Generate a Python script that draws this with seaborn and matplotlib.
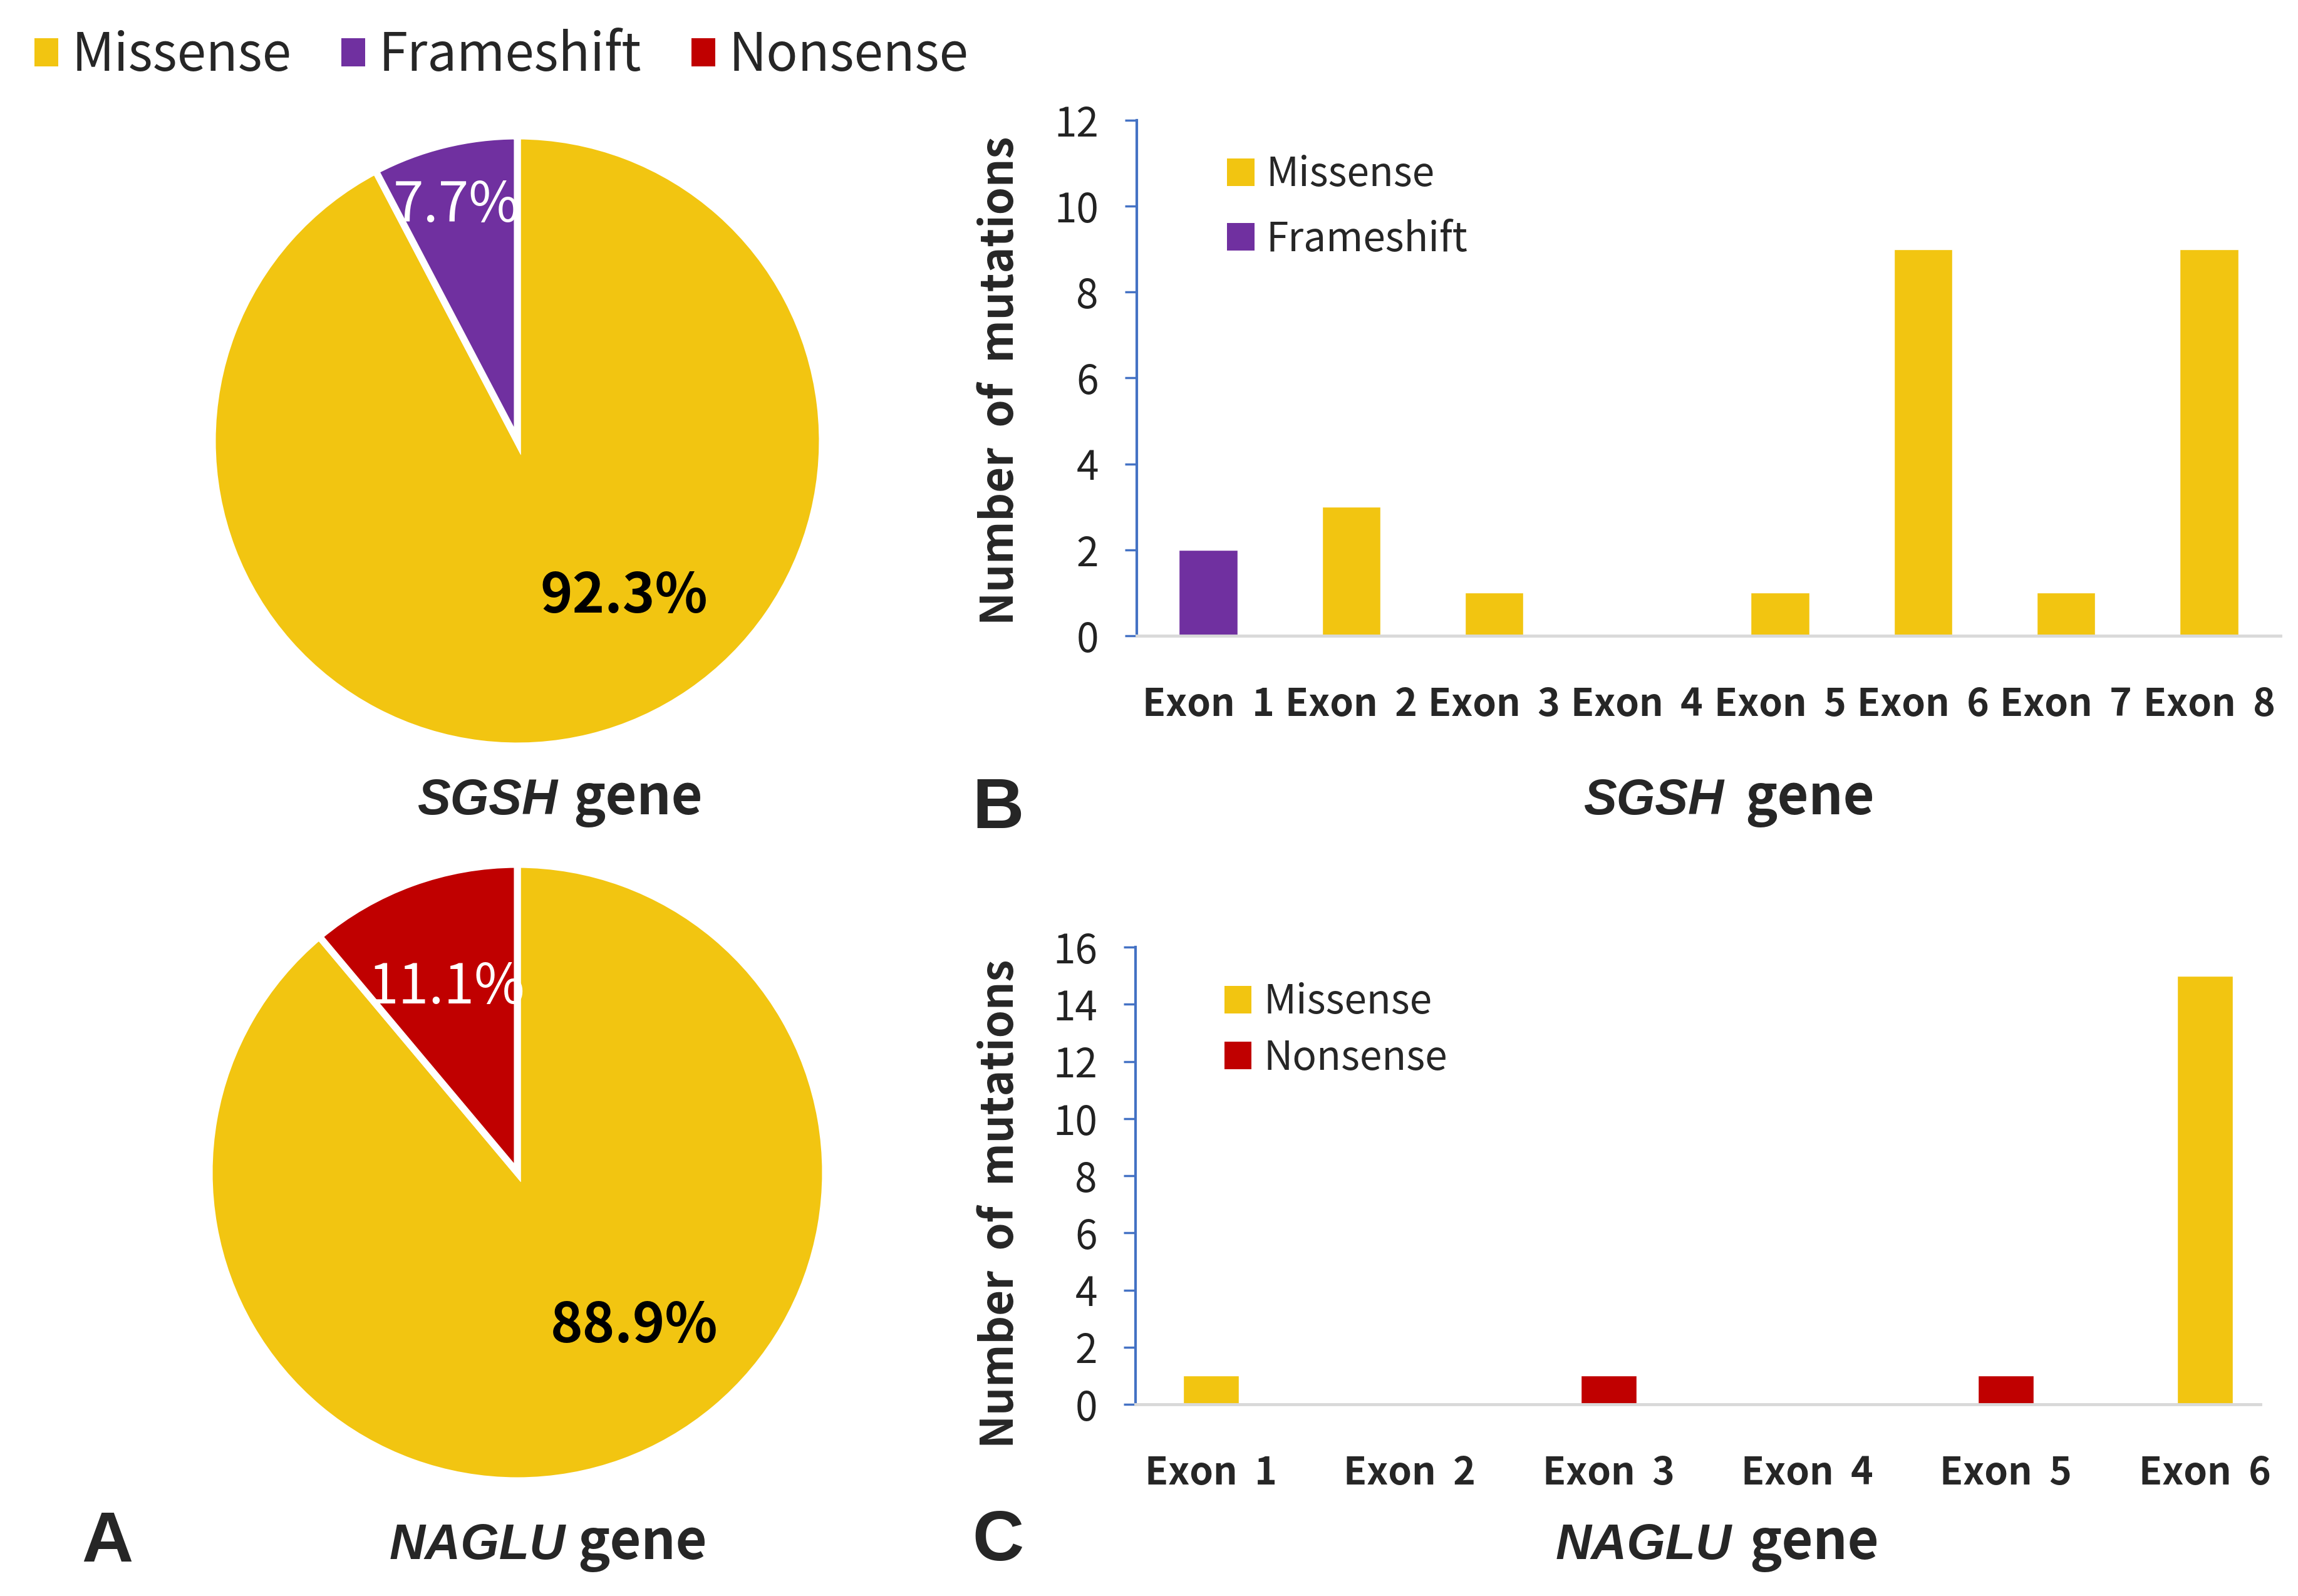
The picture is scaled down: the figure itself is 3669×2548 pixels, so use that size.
import numpy as np
import pandas as pd
import matplotlib
matplotlib.use('Agg')
import matplotlib.pyplot as plt
from matplotlib.patches import Patch
import seaborn as sns

# data
sgsh_exons = ['Exon 1', 'Exon 2', 'Exon 3', 'Exon 4', 'Exon 5', 'Exon 6', 'Exon 7', 'Exon 8']
sgsh_counts = [2, 3, 1, 0, 1, 9, 1, 9]
sgsh_types = ['Frameshift', 'Missense', 'Missense', 'Missense', 'Missense', 'Missense', 'Missense', 'Missense']

naglu_exons = ['Exon 1', 'Exon 2', 'Exon 3', 'Exon 4', 'Exon 5', 'Exon 6']
naglu_counts = [1, 0, 1, 0, 1, 15]
naglu_types = ['Missense', 'Missense', 'Nonsense', 'Missense', 'Nonsense', 'Missense']

colors = {'Missense': '#F2C511', 'Frameshift': '#7030A0', 'Nonsense': '#C00000'}

sns.set_theme(style='white')
plt.rcParams['font.family'] = ['Noto Sans CJK KR', 'DejaVu Sans']

W, H = 3669, 2548
fig = plt.figure(figsize=(W / 100, H / 100), dpi=100)


def fx(x):
    return x / W


def fy(y):
    return 1 - y / H


def box(x0, y0, x1, y1):
    return [fx(x0), fy(y1), (x1 - x0) / W, (y1 - y0) / H]


df_b = pd.DataFrame({'exon': sgsh_exons, 'count': sgsh_counts, 'type': sgsh_types})
df_c = pd.DataFrame({'exon': naglu_exons, 'count': naglu_counts, 'type': naglu_types})


# ---- pies ----
def draw_pie(ax, df, order, lab_pos, lab_col):
    tot = df.groupby('type')['count'].sum()
    vals = [tot.get(t, 0) for t in order]
    ax.pie(vals, colors=[colors[t] for t in order], startangle=90, counterclock=False,
           wedgeprops=dict(edgecolor='white', linewidth=8))
    ax.set_xlim(-1, 1)
    ax.set_ylim(-1, 1)
    s = sum(vals)
    for v, (px, py), c in zip(vals, lab_pos, lab_col):
        ax.text(px, py, f'{100 * v / s:.1f}%', color=c, fontsize=63,
                fontweight='bold' if c == 'black' else 'normal', ha='center', va='center')


ax_p1 = fig.add_axes(box(339, 217, 1313, 1191))
draw_pie(ax_p1, df_b, ['Missense', 'Frameshift'], [(0.35, -0.51), (-0.20, 0.77)], ['black', 'white'])

ax_p2 = fig.add_axes(box(334, 1380, 1318, 2364))
draw_pie(ax_p2, df_c, ['Missense', 'Nonsense'], [(0.38, -0.50), (-0.23, 0.60)], ['black', 'white'])


# ---- bar charts ----
def draw_bars(ax, df, order, ymax, width, xlim, leg_anchor, labspace):
    sns.barplot(data=df, x='exon', y='count', hue='type', hue_order=order,
                palette=colors, saturation=1, dodge=False, width=width, legend=False, ax=ax)
    ax.set_ylim(0, ymax)
    ax.set_xlim(*xlim)
    ax.set_yticks(np.arange(0, ymax + 1, 2))
    ax.set_xlabel('')
    ax.set_ylabel('')
    for sp in ['top', 'right']:
        ax.spines[sp].set_visible(False)
    ax.spines['left'].set_color('#4472C4')
    ax.spines['left'].set_linewidth(3)
    ax.spines['bottom'].set_color('#D9D9D9')
    ax.spines['bottom'].set_linewidth(3.5)
    ax.tick_params(axis='y', length=14, width=2.5, color='#4472C4', left=True,
                   labelsize=46, pad=30, labelcolor='#222222')
    ax.tick_params(axis='x', length=0, labelsize=43.5, pad=57)
    ax.set_xticks(range(len(df)))
    ax.set_xticklabels([e.replace(' ', '  ') for e in df['exon']], fontweight='bold')
    handles = [Patch(facecolor=colors[t], edgecolor='none') for t in order]
    ax.legend(handles, order, loc='upper left', bbox_to_anchor=leg_anchor, frameon=False,
              fontsize=46, handlelength=0.68, handleheight=0.68, handletextpad=0.3,
              borderpad=0, borderaxespad=0, labelspacing=labspace)


ax_b = fig.add_axes(box(1815, 192, 3641, 1015))
draw_bars(ax_b, df_b, ['Missense', 'Frameshift'], 12, 0.41, (-0.5, 7.5), (0.079, 0.935), 0.58)

ax_c = fig.add_axes(box(1813, 1512, 3609, 2242))
draw_bars(ax_c, df_c, ['Missense', 'Nonsense'], 16, 0.28, (-0.38, 5.28), (0.079, 0.925), 0.36)

fig.text(fx(1597), fy(608), 'Number  of  mutations', rotation=90, fontsize=51,
         fontweight='bold', ha='center', va='center')
fig.text(fx(1597), fy(1922), 'Number  of  mutations', rotation=90, fontsize=51,
         fontweight='bold', ha='center', va='center')

# ---- gene titles ----
for gx_r, gx_l, gy, gname in [(890, 915, 1300, 'SGSH'), (2752, 2786, 1300, 'SGSH'),
                              (903, 922, 2489, 'NAGLU'), (2765, 2793, 2489, 'NAGLU')]:
    fig.text(fx(gx_r), fy(gy), gname, fontsize=57, fontweight='bold', fontstyle='italic',
             family=['Liberation Sans', 'DejaVu Sans'], ha='right', va='baseline')
    fig.text(fx(gx_l), fy(gy), 'gene', fontsize=62, fontweight='bold', ha='left', va='baseline')

# panel letters
for lx, ly, lt in [(171, 2493, 'A'), (1593, 1322, 'B'), (1593, 2491, 'C')]:
    fig.text(fx(lx), fy(ly), lt, fontsize=82, fontweight='bold', family='Liberation Sans',
             ha='center', va='baseline')

# ---- top legend ----
top_order = ['Missense', 'Frameshift', 'Nonsense']
fig.legend([Patch(facecolor=colors[t], edgecolor='none') for t in top_order], top_order,
           loc='center left', bbox_to_anchor=(fx(55), fy(89)), ncol=3, frameon=False,
           fontsize=60, handlelength=0.46, handleheight=0.46, handletextpad=0.26,
           columnspacing=0.95, borderpad=0, borderaxespad=0)

fig.savefig('out.png', dpi=100, facecolor='white')
